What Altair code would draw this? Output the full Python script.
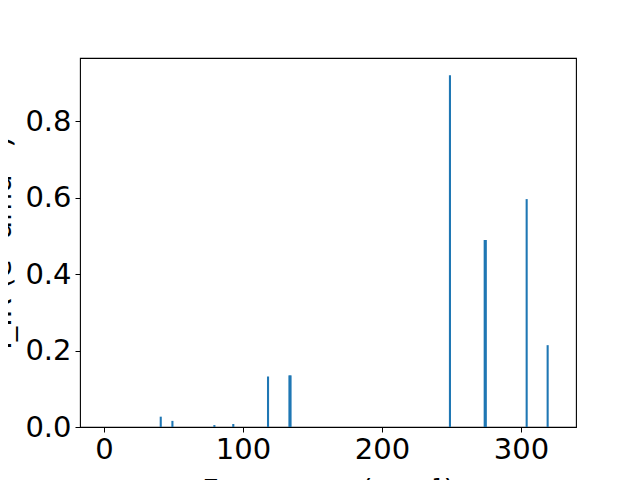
import altair as alt
import pandas as pd

freqs = [40.8, 49.2, 79.4, 93.0, 118.0, 133.4, 134.2, 248.9, 273.9, 274.7, 304.1, 319.2]
intensities = [0.027, 0.016, 0.005, 0.008, 0.132, 0.135, 0.135, 0.920, 0.489, 0.489, 0.596, 0.214]
x_ticks = [0, 100, 200, 300]
y_ticks = [0.0, 0.2, 0.4, 0.6, 0.8]

df = pd.DataFrame({"freq": freqs, "inten": intensities})

FONT = "DejaVu Sans"
FS = 29

chart = (
    alt.Chart(df)
    .transform_calculate(lo="datum.freq - 0.75", hi="datum.freq + 0.75")
    .mark_rect(color="#1f77b4")
    .encode(
        x=alt.X(
            "lo:Q",
            scale=alt.Scale(domain=[-17.3, 339.6], nice=False, zero=False),
            axis=alt.Axis(
                values=x_ticks,
                format="d",
                title="Frequency (cm⁻¹)",
                titleFontSize=FS,
                titleFontWeight="normal",
                titleFont=FONT,
                titleColor="black",
                titleBaseline="alphabetic",
                titleY=72,
                labelFontSize=FS,
                labelFont=FONT,
                labelColor="black",
                labelPadding=3,
                tickSize=5,
                tickColor="black",
                domain=False,
                grid=False,
            ),
        ),
        x2="hi:Q",
        y=alt.Y(
            "inten:Q",
            scale=alt.Scale(domain=[0, 0.965], nice=False),
            axis=alt.Axis(
                values=y_ticks,
                format=".1f",
                title="I_IR (e² amu⁻¹)",
                titleFontSize=FS,
                titleFontWeight="normal",
                titleFont=FONT,
                titleColor="black",
                titleBaseline="alphabetic",
                titleX=-70,
                labelFontSize=FS,
                labelFont=FONT,
                labelColor="black",
                labelPadding=4,
                tickSize=5,
                tickColor="black",
                domain=False,
                grid=False,
            ),
        ),
        y2=alt.datum(0),
    )
    .properties(
        width=496,
        height=369,
        background="white",
        autosize=alt.AutoSizeParams(type="none"),
        padding={"left": 72, "top": 50, "right": 56, "bottom": 53},
    )
    .configure_view(stroke="black", strokeWidth=1.1)
)

chart.save("out.html", embed_options={"renderer": "svg", "actions": False})
